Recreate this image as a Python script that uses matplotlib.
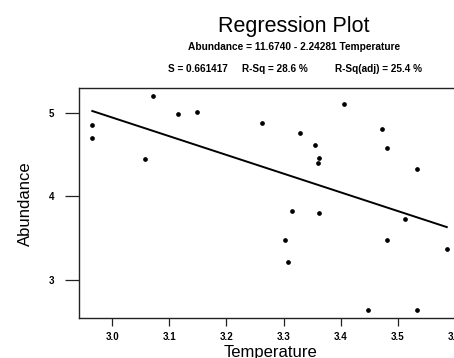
import numpy as np
import matplotlib.pyplot as plt

# data
temperature = [2.965, 2.965, 3.072, 3.058, 3.116, 3.148, 3.263, 3.406,
               3.328, 3.473, 3.356, 3.481, 3.363, 3.360, 3.533, 3.314,
               3.363, 3.512, 3.303, 3.481, 3.586, 3.307, 3.448, 3.534]
abundance = [4.856, 4.700, 5.200, 4.445, 4.992, 5.012, 4.884, 5.104,
             4.764, 4.805, 4.616, 4.584, 4.464, 4.397, 4.325, 3.825,
             3.805, 3.733, 3.474, 3.474, 3.369, 3.217, 2.638, 2.638]

intercept = 11.6740
slope = -2.24281
x_ticks = [3.0, 3.1, 3.2, 3.3, 3.4, 3.5, 3.6]
y_ticks = [3, 4, 5]

W, H = 454, 358
fig = plt.figure(figsize=(W / 100, H / 100), dpi=100)
plt.rcParams['font.family'] = ['Liberation Sans', 'DejaVu Sans']


def fx(px):
    return px / W


def fy(py):
    return 1 - py / H


ax = fig.add_axes([fx(79), fy(318), (507 - 79) / W, (318 - 87.5) / H])

ax.plot(temperature, abundance, 'o', color='black', ms=3.4, mew=0)

x_line = np.array([min(temperature), max(temperature)])
ax.plot(x_line, intercept + slope * x_line, color='black', lw=1.4)

ax.set_xlim(2.9417, 3.6915)
ax.set_ylim(2.5405, 5.306)
ax.set_xticks(x_ticks)
ax.set_xticklabels(['%.1f' % t for t in x_ticks])
ax.set_yticks(y_ticks)
ax.set_yticklabels([str(t) for t in y_ticks])

for s in ax.spines.values():
    s.set_linewidth(1.0)
    s.set_color('#222222')

ax.tick_params(axis='x', length=5.5, width=0.9, pad=4.5, labelsize=7,
               color='#222222')
ax.tick_params(axis='y', length=10, width=0.9, pad=8, labelsize=7,
               color='#222222')
for lab in ax.get_xticklabels() + ax.get_yticklabels():
    lab.set_fontweight('bold')

fig.text(fx(294), fy(31.7), 'Regression Plot', ha='center', va='baseline',
         fontsize=15.5)
fig.text(fx(294.5), fy(50.3), 'Abundance = 11.6740 - 2.24281 Temperature',
         ha='center', va='baseline', fontsize=7.3, fontweight='bold')
fig.text(fx(168), fy(72.3), 'S = 0.661417', ha='left', va='baseline',
         fontsize=7.2, fontweight='bold')
fig.text(fx(241.7), fy(72.3), 'R-Sq = 28.6 %', ha='left', va='baseline',
         fontsize=7.2, fontweight='bold')
fig.text(fx(335), fy(72.3), 'R-Sq(adj) = 25.4 %', ha='left', va='baseline',
         fontsize=7.2, fontweight='bold')

fig.text(fx(25.7), fy(204), 'Abundance', rotation=90, ha='center',
         va='center', fontsize=12)
fig.text(fx(270), fy(357), 'Temperature', ha='center', va='baseline',
         fontsize=12)

fig.savefig('out.png', dpi=100)
